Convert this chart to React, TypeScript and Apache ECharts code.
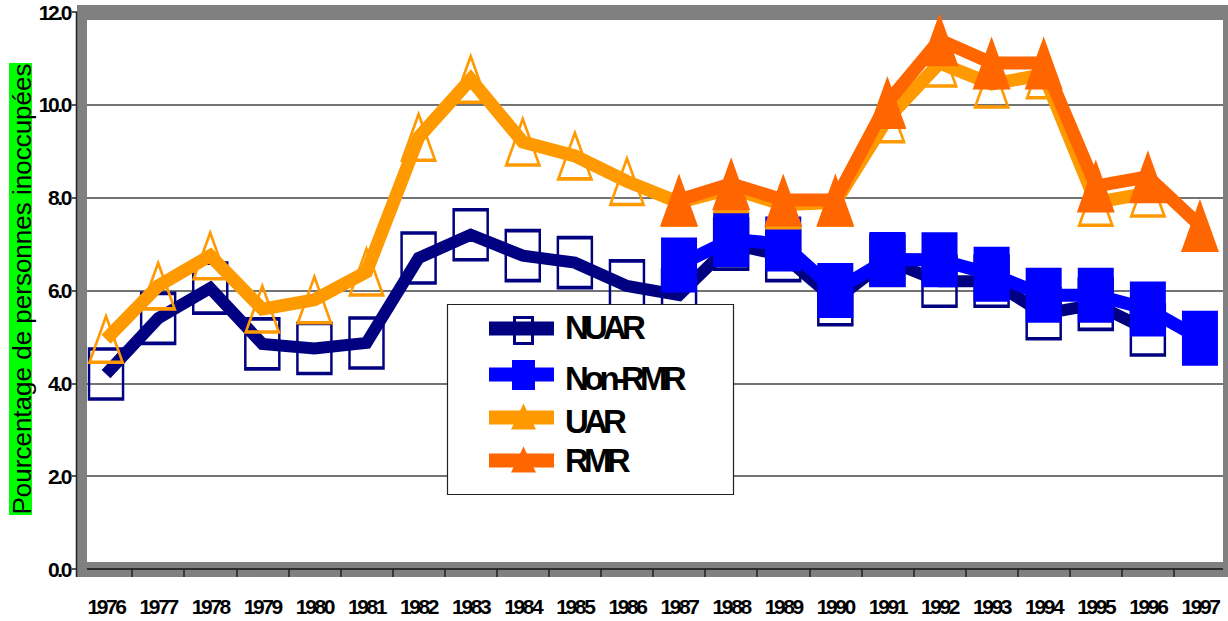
import React, { useEffect, useRef } from "react";
import * as echarts from "echarts";

// ---------- data ----------
const years = [
  "1976", "1977", "1978", "1979", "1980", "1981", "1982", "1983", "1984", "1985", "1986",
  "1987", "1988", "1989", "1990", "1991", "1992", "1993", "1994", "1995", "1996", "1997",
];
const nuar = [4.2, 5.4, 6.05, 4.85, 4.75, 4.87, 6.7, 7.2, 6.75, 6.6, 6.1, 5.9, 7.0, 6.75, 5.8, 6.65, 6.2, 6.2, 5.5, 5.7, 5.15, null];
const nonRmr = [null, null, null, null, null, null, null, null, null, null, null, 6.55, 7.1, 7.0, 6.0, 6.67, 6.66, 6.35, 5.9, 5.9, 5.6, 4.97];
const uar = [4.95, 6.1, 6.75, 5.6, 5.8, 6.4, 9.3, 10.55, 9.2, 8.9, 8.35, 7.9, 8.2, 7.85, 7.9, 9.7, 10.9, 10.45, 10.65, 7.9, 8.1, null];
const rmr = [null, null, null, null, null, null, null, null, null, null, null, 7.95, 8.3, 7.95, 7.95, 10.05, 11.4, 10.9, 10.9, 8.25, 8.45, 7.4];
const seriesNames = ["NUAR", "Non-RMR", "UAR", "RMR"];
const yMin = 0;
const yMax = 12;
const yStep = 2;
const yAxisTitle = "Pourcentage de personnes inoccupées";

// ---------- styles ----------
const SANS = "'Liberation Sans', Arial, sans-serif";
const C_NUAR = "#000080";
const C_NONRMR = "#0000FF";
const C_UAR = "#FF9900";
const C_RMR = "#FF6600";
const FRAME = "#808080";

const css = `
#chart-root text[style*="21px"] { letter-spacing: -2.4px; }
#chart-root text[style*="33px"] { letter-spacing: -4.8px; }
`;

export default function App() {
  const ref = useRef<HTMLDivElement>(null);

  useEffect(() => {
    document.body.style.margin = "0";
    if (!ref.current) return;
    const chart = echarts.init(ref.current, undefined, { renderer: "svg" });

    const lineCommon = {
      type: "line" as const,
      connectNulls: false,
      showAllSymbol: true,
      clip: false,
      emphasis: { disabled: true },
      silent: true,
    };

    // legend pieces (layout only)
    const lx0 = 489, lx1 = 554, tx = 565;
    const legendRows = [
      { lineY: 328.5, textY: 327 },
      { lineY: 374.5, textY: 378 },
      { lineY: 417.5, textY: 421 },
      { lineY: 460.5, textY: 460 },
    ];
    const legendColors = [C_NUAR, C_NONRMR, C_UAR, C_RMR];

    const graphics: any[] = [
      // frame bands
      { type: "rect", z: 1, silent: true, shape: { x: 77, y: 5, width: 1160, height: 15 }, style: { fill: FRAME } },
      { type: "rect", z: 1, silent: true, shape: { x: 77, y: 5, width: 10, height: 572 }, style: { fill: FRAME } },
      { type: "rect", z: 1, silent: true, shape: { x: 1223, y: 5, width: 15, height: 572 }, style: { fill: FRAME } },
      { type: "rect", z: -1, silent: true, shape: { x: 77, y: 562, width: 1160, height: 15 }, style: { fill: FRAME } },
      { type: "line", z: 1, silent: true, shape: { x1: 76.5, y1: 12, x2: 76.5, y2: 577 }, style: { stroke: "#222", lineWidth: 1.5 } },
      // y axis title
      { type: "rect", z: 1, silent: true, shape: { x: 9, y: 63, width: 23, height: 452 }, style: { fill: "#00FF00" } },
      {
        type: "text", z: 2, silent: true, x: 22, y: 289, rotation: Math.PI / 2,
        style: { text: yAxisTitle, fill: "#000", font: `26px ${SANS}`, textAlign: "center", textVerticalAlign: "middle" },
      },
      // legend box
      { type: "rect", z: 10, silent: true, shape: { x: 447.5, y: 304.5, width: 286, height: 190 }, style: { fill: "#fff", stroke: "#222", lineWidth: 1.2 } },
    ];

    seriesNames.forEach((name, i) => {
      const r = legendRows[i];
      const c = legendColors[i];
      graphics.push({ type: "rect", z: 11, silent: true, shape: { x: lx0, y: r.lineY - 7, width: lx1 - lx0, height: 14 }, style: { fill: c } });
      if (i === 0) {
        graphics.push({ type: "rect", z: 12, silent: true, shape: { x: 514.5, y: 317.5, width: 18, height: 26 }, style: { fill: "none", stroke: c, lineWidth: 3 } });
      } else if (i === 1) {
        graphics.push({ type: "rect", z: 12, silent: true, shape: { x: 512, y: 360, width: 23, height: 30 }, style: { fill: c } });
      } else {
        const top = r.lineY - 14, bot = r.lineY + 12;
        graphics.push({ type: "polygon", z: 12, silent: true, shape: { points: [[523.5, top], [536, bot], [511, bot]] }, style: { fill: c } });
      }
      graphics.push({
        type: "text", z: 12, silent: true, x: tx, y: r.textY,
        style: { text: name, fill: "#000", font: `bold 33px ${SANS}`, textAlign: "left", textVerticalAlign: "middle" },
      });
    });

    chart.setOption({
      animation: false,
      backgroundColor: "#fff",
      grid: { left: 80, right: 2, top: 12, bottom: 52, containLabel: false },
      xAxis: {
        type: "category",
        data: years,
        boundaryGap: true,
        axisLine: { show: true, lineStyle: { color: "#222", width: 1.5 } },
        axisTick: { show: true, length: 8, inside: false, lineStyle: { color: "#222", width: 1.5 } },
        axisLabel: { interval: 0, margin: 27, color: "#000", fontFamily: SANS, fontWeight: "bold", fontSize: 21 },
        splitLine: { show: false },
      },
      yAxis: {
        type: "value",
        min: yMin,
        max: yMax,
        interval: yStep,
        axisLine: { show: false },
        axisTick: { show: true, length: 8, lineStyle: { color: "#222", width: 1.5 } },
        axisLabel: {
          margin: 10, color: "#000", fontFamily: SANS, fontWeight: "bold", fontSize: 21,
          formatter: (v: number) => v.toFixed(1),
        },
        splitLine: { show: true, lineStyle: { color: "#444", width: 1.5 } },
      },
      series: [
        {
          ...lineCommon, name: seriesNames[0], data: nuar, z: 2,
          symbol: "rect", symbolSize: [34, 50],
          lineStyle: { color: C_NUAR, width: 12, join: "miter", cap: "butt" },
          itemStyle: { color: "rgba(0,0,0,0)", borderColor: C_NUAR, borderWidth: 3, borderJoin: "miter" },
        },
        {
          ...lineCommon, name: seriesNames[1], data: nonRmr, z: 3,
          symbol: "rect", symbolSize: [36, 55],
          lineStyle: { color: C_NONRMR, width: 13, join: "miter", cap: "butt" },
          itemStyle: { color: C_NONRMR, borderWidth: 0 },
        },
        {
          ...lineCommon, name: seriesNames[2], data: uar, z: 4,
          symbol: "triangle", symbolSize: [33, 46],
          lineStyle: { color: C_UAR, width: 13, join: "miter", cap: "butt" },
          itemStyle: { color: "rgba(0,0,0,0)", borderColor: C_UAR, borderWidth: 3, borderJoin: "miter" },
        },
        {
          ...lineCommon, name: seriesNames[3], data: rmr, z: 5,
          symbol: "triangle", symbolSize: [38, 53],
          lineStyle: { color: C_RMR, width: 13, join: "miter", cap: "butt" },
          itemStyle: { color: C_RMR, borderWidth: 0 },
        },
      ],
      graphic: { elements: graphics },
    });

    return () => chart.dispose();
  }, []);

  return (
    <>
      <style>{css}</style>
      <div id="chart-root" ref={ref} style={{ width: 1228, height: 621 }} />
    </>
  );
}
